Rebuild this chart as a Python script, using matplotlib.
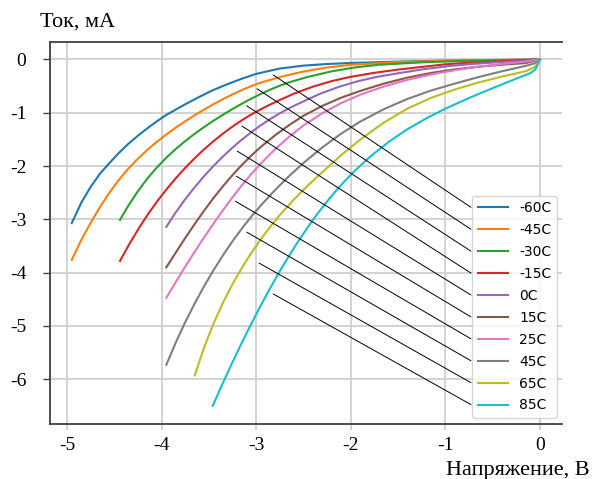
import matplotlib
matplotlib.use("Agg")
import matplotlib.pyplot as plt

plt.rcParams["axes.unicode_minus"] = False

# подписи температур
labels = ["-60C", "-45C", "-30C", "-15C", "0C", "15C", "25C", "45C", "65C", "85C"]

# ВАХ: напряжение (В) и ток (мА)
v_m60 = [-4.95, -4.85, -4.75, -4.65, -4.55, -4.45, -4.35, -4.25, -4.15, -4.05, -3.95, -3.85, -3.75, -3.6, -3.45,
         -3.3, -3.15, -3.0, -2.75, -2.5, -2.25, -2.0, -1.5, -1.0, -0.5, 0]
i_m60 = [-3.07, -2.69, -2.39, -2.14, -1.94, -1.75, -1.58, -1.43, -1.29, -1.16, -1.04, -0.94, -0.84, -0.70, -0.57,
         -0.46, -0.36, -0.27, -0.17, -0.115, -0.085, -0.065, -0.04, -0.022, -0.01, 0]

v_m45 = [-4.95, -4.85, -4.75, -4.65, -4.55, -4.45, -4.35, -4.25, -4.15, -4.05, -3.95, -3.85, -3.75, -3.65, -3.55,
         -3.45, -3.35, -3.25, -3.15, -3.05, -2.95, -2.75, -2.5, -2.25, -2.0, -1.5, -1.0, -0.5, 0]
i_m45 = [-3.76, -3.39, -3.065, -2.765, -2.495, -2.255, -2.045, -1.86, -1.695, -1.545, -1.407, -1.279, -1.159, -1.046, -0.939,
         -0.838, -0.743, -0.654, -0.572, -0.498, -0.433, -0.33, -0.225, -0.15, -0.10, -0.05, -0.023, -0.01, 0]

v_m30 = [-4.44, -4.36, -4.26, -4.16, -4.06, -3.96, -3.86, -3.76, -3.66, -3.56, -3.46, -3.36, -3.26, -3.16, -3.06,
         -2.96, -2.86, -2.76, -2.66, -2.46, -2.21, -1.96, -1.71, -1.21, -0.71, -0.21, 0]
i_m30 = [-3.01, -2.765, -2.495, -2.255, -2.045, -1.86, -1.695, -1.545, -1.407, -1.279, -1.159, -1.046, -0.939, -0.838, -0.743,
         -0.654, -0.572, -0.498, -0.433, -0.33, -0.225, -0.15, -0.10, -0.05, -0.023, -0.01, 0]

v_m15 = [-4.44, -4.34, -4.24, -4.14, -4.04, -3.94, -3.84, -3.74, -3.64, -3.54, -3.44, -3.34, -3.24, -3.14, -3.04,
         -2.9, -2.75, -2.6, -2.4, -2.2, -2.0, -1.75, -1.5, -1.25, -1.0, -0.75, -0.5, -0.25, 0]
i_m15 = [-3.78, -3.46, -3.165, -2.893, -2.645, -2.418, -2.208, -2.014, -1.835, -1.669, -1.516, -1.375, -1.245, -1.127, -1.02,
         -0.887, -0.76, -0.64, -0.51, -0.405, -0.325, -0.25, -0.19, -0.14, -0.09, -0.06, -0.04, -0.02, 0]

v_0 = [-3.95, -3.86, -3.76, -3.66, -3.56, -3.46, -3.36, -3.26, -3.16, -3.06, -2.96, -2.86, -2.76, -2.62, -2.47,
       -2.32, -2.12, -1.92, -1.72, -1.47, -1.22, -0.97, -0.72, -0.47, -0.22, 0]
i_0 = [-3.14, -2.893, -2.645, -2.418, -2.208, -2.014, -1.835, -1.669, -1.516, -1.375, -1.245, -1.127, -1.02, -0.887, -0.76,
       -0.64, -0.51, -0.405, -0.325, -0.25, -0.18, -0.125, -0.085, -0.055, -0.03, 0]

v_15 = [-3.95, -3.85, -3.75, -3.65, -3.55, -3.45, -3.35, -3.25, -3.15, -3.05, -2.95, -2.8, -2.65, -2.5, -2.3,
        -2.1, -1.9, -1.65, -1.4, -1.15, -0.9, -0.65, -0.4, -0.15, 0]
i_15 = [-3.90, -3.622, -3.35, -3.087, -2.835, -2.597, -2.375, -2.168, -1.976, -1.80, -1.639, -1.422, -1.229, -1.056, -0.87,
        -0.716, -0.59, -0.4525, -0.34, -0.2525, -0.185, -0.135, -0.0975, -0.0675, 0]

v_25 = [-3.95, -3.85, -3.75, -3.65, -3.55, -3.45, -3.35, -3.25, -3.15, -3.05, -2.95, -2.8, -2.65, -2.5, -2.3,
        -2.1, -1.9, -1.65, -1.4, -1.15, -0.9, -0.65, -0.4, -0.15, 0]
i_25 = [-4.47, -4.174, -3.886, -3.607, -3.337, -3.076, -2.825, -2.585, -2.358, -2.146, -1.951, -1.684, -1.447, -1.237, -1.007,
        -0.817, -0.661, -0.506, -0.381, -0.281, -0.201, -0.136, -0.0835, -0.041, 0]

v_45 = [-3.95, -3.85, -3.75, -3.65, -3.55, -3.45, -3.35, -3.25, -3.15, -3.05, -2.95, -2.8, -2.65, -2.5, -2.3,
        -2.1, -1.9, -1.65, -1.4, -1.15, -0.9, -0.65, -0.4, -0.15, -0.05, 0]
i_45 = [-5.73, -5.31, -4.927, -4.577, -4.252, -3.95, -3.67, -3.41, -3.169, -2.945, -2.737, -2.449, -2.184, -1.941, -1.649,
        -1.389, -1.165, -0.932, -0.74, -0.582, -0.452, -0.33, -0.22, -0.12, -0.07, 0]

v_65 = [-3.65, -3.55, -3.45, -3.35, -3.25, -3.15, -3.05, -2.95, -2.85, -2.75, -2.6, -2.45, -2.3, -2.1, -1.9,
        -1.65, -1.4, -1.15, -0.9, -0.65, -0.4, -0.15, -0.1, -0.05, -0.02, 0]
i_65 = [-5.93, -5.40, -4.95, -4.56, -4.215, -3.905, -3.625, -3.37, -3.135, -2.918, -2.625, -2.358, -2.113, -1.793, -1.503,
        -1.183, -0.92, -0.72, -0.5625, -0.4325, -0.32, -0.22, -0.18, -0.13, -0.07, 0]

v_85 = [-3.46, -3.36, -3.26, -3.16, -3.06, -2.96, -2.86, -2.76, -2.66, -2.56, -2.46, -2.36, -2.26, -2.16, -2.06,
        -1.96, -1.8, -1.6, -1.4, -1.2, -1.0, -0.75, -0.5, -0.25, -0.1, -0.05, -0.03, -0.015, 0]
i_85 = [-6.50, -6.10, -5.715, -5.345, -4.988, -4.645, -4.315, -4.002, -3.705, -3.425, -3.161, -2.914, -2.684, -2.471, -2.274,
        -2.092, -1.831, -1.547, -1.307, -1.103, -0.923, -0.723, -0.538, -0.36, -0.255, -0.19, -0.12, -0.06, 0]

# начала выносных линий к легенде
lead_x = [-2.82, -2.99, -3.10, -3.15, -3.20, -3.21, -3.22, -3.10, -2.97, -2.82]
lead_y = [-0.29, -0.55, -0.87, -1.25, -1.72, -2.19, -2.66, -3.24, -3.82, -4.40]

curves = [(v_m60, i_m60), (v_m45, i_m45), (v_m30, i_m30), (v_m15, i_m15), (v_0, i_0),
          (v_15, i_15), (v_25, i_25), (v_45, i_45), (v_65, i_65), (v_85, i_85)]

serif = "Liberation Serif"
W, H = 602, 479

fig = plt.figure(figsize=(W / 100, H / 100), dpi=100)
ax = fig.add_axes([50 / W, 55 / H, 512 / W, 382 / H])

for (v, i), lab in zip(curves, labels):
    ax.plot(v, i, lw=1.5, label=lab)

ax.set_xlim(-5.18, 0.233)
ax.set_ylim(-6.84, 0.328)
ax.set_xticks(range(-5, 1))
ax.set_yticks(range(-6, 1))
ax.grid(True, color="#d0d0d0", lw=1.3)
ax.set_axisbelow(True)

ax.spines["right"].set_visible(False)
for s in ["left", "top", "bottom"]:
    ax.spines[s].set_color("#404040")
    ax.spines[s].set_linewidth(1.3)

ax.tick_params(axis="y", length=5, width=1, color="#404040", pad=12, labelsize=14)
ax.tick_params(axis="x", length=4, width=1.3, color="#d0d0d0", pad=5, labelsize=14)
for t in ax.get_xticklabels() + ax.get_yticklabels():
    t.set_fontfamily(serif)

fig.text(40 / W, 1 - 27 / H, "Ток, мА", family=serif, fontsize=16, va="baseline")
fig.text(590 / W, 4 / H, "Напряжение, В", family=serif, fontsize=16, ha="right", va="baseline")

leg = ax.legend(loc="lower right", bbox_to_anchor=(557 / W, 61 / H), bbox_transform=fig.transFigure,
                borderaxespad=0, fontsize=10, labelspacing=0.57, handlelength=2.2)

# выносные линии от кривых к строкам легенды
fig.canvas.draw()
x_end = leg.get_frame().get_window_extent().x0 - 1
for k, h in enumerate(leg.get_lines()):
    hb = h.get_window_extent()
    yc = (hb.y0 + hb.y1) / 2
    ax.annotate("", xy=(x_end, yc), xycoords="figure pixels",
                xytext=(lead_x[k], lead_y[k]), textcoords="data",
                arrowprops=dict(arrowstyle="-", color="black", lw=0.7, shrinkA=0, shrinkB=0))

fig.savefig("out.png", dpi=100)
